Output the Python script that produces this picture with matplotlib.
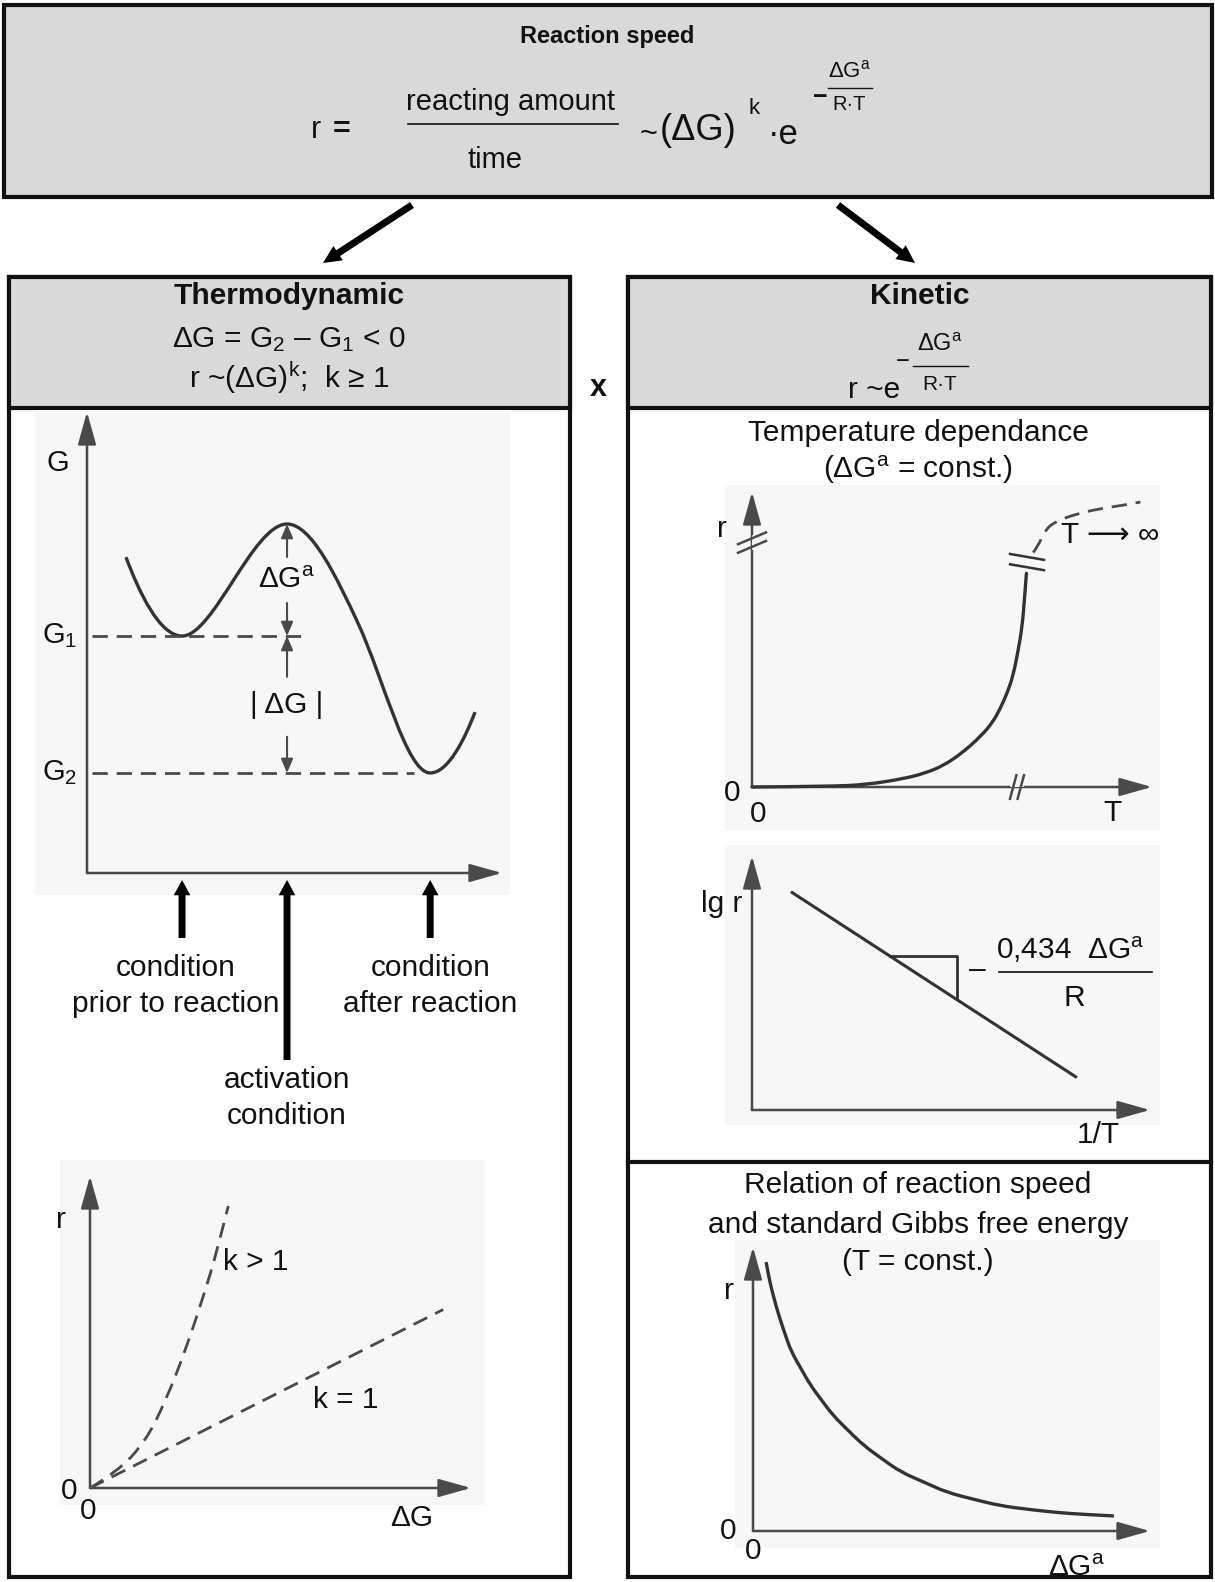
import numpy as np
import matplotlib
matplotlib.use("Agg")
import matplotlib.pyplot as plt
import matplotlib.transforms as mtransforms
from matplotlib.patches import Rectangle, FancyArrowPatch, PathPatch
from matplotlib.path import Path

plt.rcParams["font.family"] = ["Liberation Sans", "DejaVu Sans"]
plt.rcParams["mathtext.fontset"] = "custom"
plt.rcParams["mathtext.rm"] = "Liberation Sans"
plt.rcParams["mathtext.it"] = "Liberation Sans"
plt.rcParams["mathtext.bf"] = "Liberation Sans:bold"
plt.rcParams["mathtext.default"] = "regular"

# all sketches run 0..10 along both axes (schematic units)

# free energy along the reaction path, cubic Bezier (start point + 3 points per segment)
path_x = [0.94, 1.25, 1.75, 2.29, 3.05, 4.00, 4.82, 5.40, 6.00, 6.55, 7.15, 7.70, 8.27, 8.70, 9.10, 9.35]
path_g = [6.85, 6.10, 5.14, 5.14, 5.14, 7.57, 7.57, 7.57, 6.45, 5.38, 4.20, 2.17, 2.17, 2.17, 2.90, 3.49]
G1 = 5.14
G2 = 2.17
G_peak = 7.57
state_x = [2.29, 4.82, 8.27]   # before reaction, activated state, after reaction
state_text = ["condition\nprior to reaction", "activation\ncondition", "condition\nafter reaction"]

# r over dG for k = 1 and k > 1
dg_lin = [0.0, 9.27]
r_lin = [0.0, 5.72]
dg_pow = [0.0, 0.73, 1.46, 1.98, 2.50, 3.02, 3.31, 3.63]
r_pow = [0.0, 0.53, 1.50, 2.78, 4.39, 6.31, 7.49, 9.04]

# r over T, measured branch and extrapolation T -> infinity
T_meas = [0.0, 1.92, 2.87, 3.82, 4.30, 4.77, 5.25, 5.72, 6.01, 6.20, 6.39, 6.53, 6.65, 6.75, 6.81, 6.86]
r_meas = [0.0, 0.02, 0.08, 0.29, 0.46, 0.71, 1.15, 1.72, 2.18, 2.64, 3.22, 3.79, 4.60, 5.40, 6.32, 7.24]
T_ext = [7.03, 7.15, 7.34, 7.62, 8.10, 8.67, 9.24, 9.71]
r_ext = [7.95, 8.16, 8.74, 9.02, 9.25, 9.43, 9.54, 9.66]

# Arrhenius line lg r over 1/T
inv_T = [1.01, 8.13]
lg_r = [8.56, 1.31]
slope_step = [3.46, 5.14]

# r over activation energy at constant T
dGa = [0.33, 0.40, 0.48, 0.57, 0.67, 0.81, 0.96, 1.20, 1.44, 1.72, 2.01, 2.39, 2.78, 3.25, 3.73,
       4.31, 4.88, 5.55, 6.22, 6.94, 7.66, 8.37, 9.09]
r_dGa = [9.47, 8.93, 8.46, 7.98, 7.51, 6.92, 6.33, 5.74, 5.15, 4.62, 4.08, 3.55, 3.02, 2.54, 2.07,
         1.72, 1.36, 1.12, 0.89, 0.76, 0.65, 0.58, 0.53]

W, H = 1215, 1582
GRAY = "#d9d9d9"
INK = "#111111"
CURVE = "#333333"
AXC = "#4a4a4a"
FS = 21.5

fig = plt.figure(figsize=(W / 100, H / 100), dpi=100)
ax = fig.add_axes([0, 0, 1, 1])
ax.set_xlim(0, W)
ax.set_ylim(H, 0)
ax.axis("off")


def txt(x, y, s, size=FS, a=None, **kw):
    kw.setdefault("ha", "center")
    kw.setdefault("va", "center")
    return (a or ax).text(x, y, s, fontsize=size, color=INK, **kw)


def box(x0, y0, x1, y1, fc="white", lw=3):
    ax.add_patch(Rectangle((x0, y0), x1 - x0, y1 - y0, fc=fc, ec=INK, lw=lw))


def smooth(a, xs, ys, **kw):
    """Quadratic B-spline through the listed points."""
    pts = np.column_stack([xs, ys])
    verts, codes = [pts[0]], [Path.MOVETO]
    for i in range(1, len(pts) - 1):
        end = (pts[i] + pts[i + 1]) / 2 if i < len(pts) - 2 else pts[i + 1]
        verts += [pts[i], end]
        codes += [Path.CURVE3, Path.CURVE3]
    a.add_patch(PathPatch(Path(verts, codes), fc="none", clip_on=False, **kw))


# frames
box(4, 5, 1212, 197, GRAY)
for x0, x1 in [(9, 570), (628, 1211)]:
    box(x0, 277, x1, 1577)
    box(x0, 277, x1, 408, GRAY)
ax.plot([628, 1211], [1162, 1162], color=INK, lw=3)

# scanned-looking plot backgrounds
for x0, y0, x1, y1 in [(35, 410, 510, 895), (60, 1160, 485, 1505),
                       (725, 485, 1160, 830), (725, 845, 1160, 1125), (735, 1240, 1160, 1548)]:
    ax.add_patch(Rectangle((x0, y0), x1 - x0, y1 - y0, fc="#f7f7f7", ec="none"))

# banner: reaction speed
txt(607, 37, "Reaction speed", 17, weight="bold")
txt(316, 130, "r", 22)
txt(342, 130, "=", 22, weight="bold")
txt(511, 102, "reacting amount", 21)
ax.plot([408, 618], [124, 124], color=INK, lw=1.2)
txt(495, 160, "time", 21)
txt(640, 135, "~", 22, ha="left")
txt(660, 131, "(ΔG)", 26, ha="left")
txt(754, 109, "k", 16)
txt(768, 134, "·e", 25, ha="left")
txt(820, 97, "−", 18, weight="bold")
txt(849, 71, r"$ΔG^a$", 16)
ax.plot([828, 872], [88, 88], color=INK, lw=1)
txt(849, 105, "R·T", 14.5)

for p0, p1 in [((412, 205), (323, 263)), ((838, 205), (915, 263))]:
    ax.add_patch(FancyArrowPatch(p0, p1, arrowstyle="simple,head_length=0.65,head_width=0.62,tail_width=0.25",
                                 mutation_scale=20, color="black", lw=0, shrinkA=0, shrinkB=0))

# column headers
txt(289, 296, "Thermodynamic", weight="bold")
txt(289, 340, r"ΔG = $G_2$ – $G_1$ < 0")
txt(289, 378, r"r ~$(ΔG)^k$;  k ≥ 1")
txt(598, 388, "x", size=22, weight="bold")
txt(920, 296, "Kinetic", weight="bold")
txt(848, 390, "r ~e", ha="left")
txt(903, 362, "−", size=17)
txt(940, 345, r"$ΔG^a$", size=17)
ax.plot([913, 968], [366, 366], color=INK, lw=1)
txt(940, 385, "R·T", size=15)


def diagram(x0, y0, x_tip, y_tip):
    """Axes whose origin and arrow tips sit at the given canvas pixels."""
    a = fig.add_axes([x0 / W, 1 - y0 / H, (x_tip - x0) / W, (y0 - y_tip) / H])
    a.set_xlim(0, 10)
    a.set_ylim(0, 10)
    a.axis("off")
    for end in [(10, 0), (0, 10)]:
        a.add_patch(FancyArrowPatch((0, 0), end, arrowstyle="-|>,head_length=1.0,head_width=0.28",
                                    mutation_scale=20, lw=1.8, color=AXC, shrinkA=0, shrinkB=0,
                                    clip_on=False))
    return a


def dim_arrow(a, x, y_from, y_to):
    a.add_patch(FancyArrowPatch((x, y_from), (x, y_to), arrowstyle="-|>,head_length=0.7,head_width=0.3",
                                mutation_scale=12, lw=1.5, color=AXC, shrinkA=0, shrinkB=0, clip_on=False))


dash = (0, (5.5, 3.2))

# ---- free energy profile ----
axG = diagram(87, 873, 502, 412)
verts = np.column_stack([path_x, path_g])
codes = [Path.MOVETO] + [Path.CURVE4] * (len(path_x) - 1)
axG.add_patch(PathPatch(Path(verts, codes), fc="none", ec=CURVE, lw=2.4, clip_on=False))
axG.plot([0.12, state_x[1] + 0.36], [G1, G1], ls=dash, color=AXC, lw=2, clip_on=False)
axG.plot([0.12, state_x[2] - 0.4], [G2, G2], ls=dash, color=AXC, lw=2, clip_on=False)
mid_a = (G_peak + G1) / 2
mid_g = (G1 + G2) / 2
dim_arrow(axG, state_x[1], mid_a + 0.5, G_peak)
dim_arrow(axG, state_x[1], mid_a - 0.5, G1)
dim_arrow(axG, state_x[1], mid_g + 0.6, G1)
dim_arrow(axG, state_x[1], mid_g - 0.7, G2)
txt(state_x[1], mid_a, r"$ΔG^a$", a=axG)
txt(state_x[1], mid_g, "| ΔG |", a=axG)
txt(-0.7, 8.9, "G", size=21, a=axG)
txt(-0.65, G1, r"$G_1$", size=21, a=axG)
txt(-0.65, G2, r"$G_2$", size=21, a=axG)

# state arrows below the reaction coordinate
blend = mtransforms.blended_transform_factory(axG.transData, ax.transData)
for i, x in enumerate(state_x):
    y_end = 1060 if i == 1 else 938
    ax.add_patch(FancyArrowPatch((x, y_end), (x, 880), transform=blend,
                                 arrowstyle="simple,head_length=0.55,head_width=0.6,tail_width=0.25",
                                 mutation_scale=20, color="black", lw=0, shrinkA=0, shrinkB=0))
    shift = mtransforms.offset_copy(blend, fig=fig, x=-6 if i == 0 else 0, units="dots")
    ax.text(x, 1098 if i == 1 else 986, state_text[i], transform=shift, fontsize=FS, color=INK,
            ha="center", va="center", multialignment="center", linespacing=1.4)

# ---- r over dG ----
axK = diagram(90, 1488, 471, 1176)
smooth(axK, dg_pow, r_pow, ls=dash, ec=AXC, lw=2)
axK.plot(dg_lin, r_lin, ls=dash, color=AXC, lw=2, clip_on=False)
txt(3.5, 7.25, "k > 1", a=axK, ha="left")
txt(6.72, 2.83, "k = 1", a=axK)
txt(-0.75, 8.6, "r", a=axK)
txt(-0.55, -0.1, "0", a=axK)
txt(-0.05, -0.75, "0", a=axK)
txt(8.45, -0.95, "ΔG", a=axK)

# ---- temperature dependence ----
txt(918, 433, "Temperature dependance")
txt(918, 470, r"($ΔG^a$ = const.)")
axT = diagram(752, 787, 1152, 492)
smooth(axT, T_meas, r_meas, ec=CURVE, lw=2.4, capstyle="round")
smooth(axT, T_ext, r_ext, ls=dash, ec=AXC, lw=2)
# axis and curve breaks
axT.plot([0, 0], [8.14, 8.43], color="#f7f7f7", lw=4)
for yb in [8.14, 8.43]:
    axT.plot([-0.35, 0.35], [yb - 0.2, yb + 0.2], color=AXC, lw=1.8, clip_on=False)
axT.plot([6.53, 6.72], [0, 0], color="#f7f7f7", lw=4)
for xb in [6.53, 6.72]:
    axT.plot([xb - 0.08, xb + 0.08], [-0.4, 0.4], color=AXC, lw=1.8, clip_on=False)
for yb in [7.45, 7.8]:
    axT.plot([6.45, 7.3], [yb + 0.1, yb - 0.1], color=CURVE, lw=1.8, clip_on=False)
txt(-0.75, 8.75, "r", a=axT)
txt(8.95, 8.55, "T ⟶ ∞", a=axT)
txt(-0.5, -0.22, "0", a=axT)
txt(0.15, -0.9, "0", a=axT)
txt(9.0, -0.88, "T", a=axT)

# ---- Arrhenius plot ----
axL = diagram(752, 1110, 1150, 856)
axL.plot(inv_T, lg_r, color=CURVE, lw=2.2)
step_y = np.interp(slope_step, inv_T, lg_r)
axL.plot([slope_step[0], slope_step[1], slope_step[1]], [step_y[0], step_y[0], step_y[1]], color=CURVE, lw=2)
txt(-0.75, 8.1, "lg r", a=axL)
txt(5.67, 5.5, "–", a=axL)
txt(8.0, 6.3, r"0,434  $ΔG^a$", a=axL)
axL.plot([6.2, 10.05], [5.42, 5.42], color=INK, lw=1.2, clip_on=False)
txt(8.1, 4.4, "R", a=axL)
txt(8.7, -0.98, "1/T", a=axL)

# ---- r over activation energy ----
txt(918, 1185, "Relation of reaction speed")
txt(918, 1225, "and standard Gibbs free energy")
txt(918, 1262, "(T = const.)")
axR = diagram(753, 1531, 1150, 1247)
smooth(axR, dGa, r_dGa, ec=CURVE, lw=2.4)
txt(-0.6, 8.45, "r", a=axR)
txt(-0.62, 0.0, "0", a=axR)
txt(0.0, -0.72, "0", a=axR)
txt(8.15, -1.3, r"$ΔG^a$", a=axR)

fig.savefig("out.png", dpi=100)
